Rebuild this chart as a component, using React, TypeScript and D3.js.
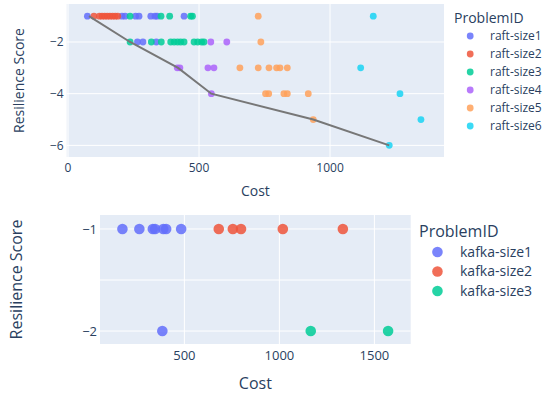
import { useRef, useEffect } from 'react';
import * as d3 from 'd3';

const FONT = '"Open Sans", verdana, arial, sans-serif';
const TEXT = '#2a3f5f';
const BG = '#E5ECF6';
const MARK_OPACITY = 0.85;

// raft problems (top chart)
const raftNames = ['raft-size1', 'raft-size2', 'raft-size3', 'raft-size4', 'raft-size5', 'raft-size6'];
const raftColors = ['#636efa', '#EF553B', '#00cc96', '#ab63fa', '#FFA15A', '#19d3f3'];
const raftCost = [
  [74, 206, 218, 258, 271, 316, 332, 340, 443, 265, 286, 337],
  [99, 120, 130, 140, 150, 160, 170, 180, 190],
  [237, 355, 388, 468, 475, 237, 318, 356, 392, 405, 418, 430, 443, 481, 495, 510, 519],
  [545, 606, 417, 427, 534, 557, 547],
  [726, 736, 656, 726, 767, 796, 809, 837, 754, 766, 824, 837, 917, 936],
  [1165, 1117, 1267, 1347, 1226],
];
const raftScore = [
  [-1, -1, -1, -1, -1, -1, -1, -1, -1, -2, -2, -2],
  [-1, -1, -1, -1, -1, -1, -1, -1, -1],
  [-1, -1, -1, -1, -1, -2, -2, -2, -2, -2, -2, -2, -2, -2, -2, -2, -2],
  [-2, -2, -3, -3, -3, -3, -4],
  [-1, -2, -3, -3, -3, -3, -3, -3, -4, -4, -4, -4, -4, -5],
  [-1, -3, -4, -5, -6],
];
const frontierCost = [80, 237, 420, 547, 936, 1226];
const frontierScore = [-1, -2, -3, -4, -5, -6];
const topXTicks = [0, 500, 1000];
const topYTicks = [-2, -4, -6];

// kafka problems (bottom chart)
const kafkaNames = ['kafka-size1', 'kafka-size2', 'kafka-size3'];
const kafkaColors = ['#636efa', '#EF553B', '#00cc96'];
const kafkaCost = [
  [174, 263, 334, 346, 389, 404, 483, 384],
  [681, 755, 798, 1018, 1334],
  [1165, 1572],
];
const kafkaScore = [
  [-1, -1, -1, -1, -1, -1, -1, -2],
  [-1, -1, -1, -1, -1],
  [-2, -2],
];
const botXTicks = [500, 1000, 1500];
const botYTicks = [-1, -2];
const botYGrid = [-1, -1.5, -2];

const fmt = (v: number) => String(v).replace('-', '\u2212');

export default function App() {
  const svgRef = useRef<SVGSVGElement>(null);

  useEffect(() => {
    const svg = d3.select(svgRef.current);
    svg.selectAll('*').remove();

    function panel(opts: {
      left: number; right: number; top: number; bottom: number;
      xDomain: [number, number]; yDomain: [number, number];
      xTicks: number[]; yTicks: number[]; yGrid: number[];
      names: string[]; colors: string[]; costs: number[][]; scores: number[][];
      r: number; tickSize: number; titleSize: number;
      xTitleY: number; yTitleX: number;
      legend: { x: number; titleY: number; first: number; step: number; textX: number; size: number; titleSize: number; r: number };
    }) {
      const x = d3.scaleLinear().domain(opts.xDomain).range([opts.left, opts.right]);
      const y = d3.scaleLinear().domain(opts.yDomain).range([opts.bottom, opts.top]);
      const g = svg.append('g');

      g.append('rect')
        .attr('x', opts.left).attr('y', opts.top)
        .attr('width', opts.right - opts.left).attr('height', opts.bottom - opts.top)
        .attr('fill', BG);

      // grid
      opts.xTicks.forEach(t => {
        g.append('line')
          .attr('x1', x(t)).attr('x2', x(t)).attr('y1', opts.top).attr('y2', opts.bottom)
          .attr('stroke', '#fff').attr('stroke-width', 1);
      });
      opts.yGrid.forEach(t => {
        g.append('line')
          .attr('y1', y(t)).attr('y2', y(t)).attr('x1', opts.left).attr('x2', opts.right)
          .attr('stroke', '#fff').attr('stroke-width', 1);
      });

      // tick labels
      opts.xTicks.forEach(t => {
        g.append('text')
          .attr('x', x(t)).attr('y', opts.bottom + 4 + opts.tickSize * 0.9)
          .attr('text-anchor', 'middle')
          .attr('font-family', FONT).attr('font-size', opts.tickSize).attr('fill', TEXT)
          .text(fmt(t));
      });
      opts.yTicks.forEach(t => {
        g.append('text')
          .attr('x', opts.left - 3).attr('y', y(t))
          .attr('dy', '0.35em')
          .attr('text-anchor', 'end')
          .attr('font-family', FONT).attr('font-size', opts.tickSize).attr('fill', TEXT)
          .text(fmt(t));
      });

      // axis titles
      g.append('text')
        .attr('x', (opts.left + opts.right) / 2).attr('y', opts.xTitleY)
        .attr('text-anchor', 'middle')
        .attr('font-family', FONT).attr('font-size', opts.titleSize).attr('fill', TEXT)
        .text('Cost');
      g.append('text')
        .attr('transform', `translate(${opts.yTitleX},${(opts.top + opts.bottom) / 2}) rotate(-90)`)
        .attr('text-anchor', 'middle')
        .attr('font-family', FONT).attr('font-size', opts.titleSize).attr('fill', TEXT)
        .text('Resilience Score');

      // points
      opts.names.forEach((_, i) => {
        g.append('g')
          .selectAll('circle')
          .data(opts.costs[i].map((c, j) => [c, opts.scores[i][j]]))
          .join('circle')
          .attr('cx', d => x(d[0])).attr('cy', d => y(d[1]))
          .attr('r', opts.r)
          .attr('fill', opts.colors[i])
          .attr('fill-opacity', MARK_OPACITY);
      });

      // legend
      const L = opts.legend;
      g.append('text')
        .attr('x', L.x).attr('y', L.titleY)
        .attr('font-family', FONT).attr('font-size', L.titleSize).attr('fill', TEXT)
        .text('ProblemID');
      opts.names.forEach((name, i) => {
        const cy = L.first + i * L.step;
        g.append('circle')
          .attr('cx', L.x + (L.textX - L.x) * 0.45).attr('cy', cy).attr('r', L.r)
          .attr('fill', opts.colors[i])
          .attr('fill-opacity', MARK_OPACITY);
        g.append('text')
          .attr('x', L.textX).attr('y', cy).attr('dy', '0.35em')
          .attr('font-family', FONT).attr('font-size', L.size).attr('fill', TEXT)
          .text(name);
      });
      return { x, y, g };
    }

    const top = panel({
      left: 66.7, right: 444, top: 4, bottom: 157,
      xDomain: [-5, 1435], yDomain: [-6.45, -0.53],
      xTicks: topXTicks, yTicks: topYTicks, yGrid: topYTicks,
      names: raftNames, colors: raftColors, costs: raftCost, scores: raftScore,
      r: 3.4, tickSize: 12, titleSize: 14,
      xTitleY: 196, yTitleX: 24,
      legend: { x: 454, titleY: 23, first: 36, step: 18, textX: 490, size: 12, titleSize: 14, r: 3.4 },
    });

    const line = d3.line<number>()
      .x((_, i) => top.x(frontierCost[i]))
      .y(d => top.y(d));
    top.g.append('path')
      .attr('d', line(frontierScore))
      .attr('fill', 'none')
      .attr('stroke', '#777')
      .attr('stroke-width', 2);

    panel({
      left: 100, right: 410.7, top: 215, bottom: 344,
      xDomain: [56, 1691], yDomain: [-2.127, -0.863],
      xTicks: botXTicks, yTicks: botYTicks, yGrid: botYGrid,
      names: kafkaNames, colors: kafkaColors, costs: kafkaCost, scores: kafkaScore,
      r: 5.3, tickSize: 13, titleSize: 16,
      xTitleY: 389, yTitleX: 22,
      legend: { x: 419, titleY: 237, first: 252, step: 19.5, textX: 460, size: 14, titleSize: 16, r: 5.3 },
    });
  }, []);

  return (
    <svg ref={svgRef} width={548} height={394}
      style={{ position: 'absolute', left: 0, top: 0, background: '#fff' }} />
  );
}
